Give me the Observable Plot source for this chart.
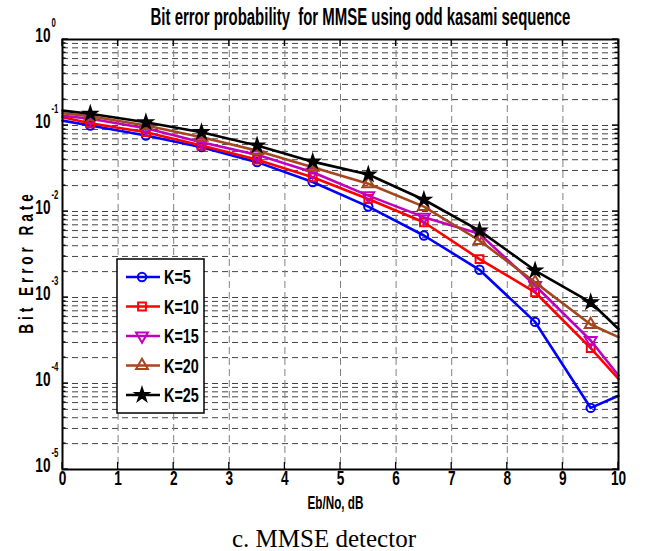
<!DOCTYPE html>
<html><head><meta charset="utf-8">
<script src="https://cdn.jsdelivr.net/npm/d3@7"></script>
<script src="https://cdn.jsdelivr.net/npm/@observablehq/plot@0.6"></script>
<style>
body{margin:0;background:#fff;}
#chart{position:relative;width:646px;height:551px;background:#fff;overflow:hidden;}
#caption{position:absolute;left:0;top:527px;width:648px;text-align:center;font-family:"Liberation Serif","Times New Roman",serif;font-size:25px;line-height:24px;color:#000;}
</style>
</head><body>
<div id="chart"></div>
<script>
// ---- data ----
const ebno = [0, 0.5, 1.5, 2.5, 3.5, 4.5, 5.5, 6.5, 7.5, 8.5, 9.5, 10];
const k5  = [0.114, 0.100, 0.0765, 0.056, 0.0375, 0.022, 0.0114, 0.00526, 0.0021, 0.00052, 0.000052, 0.000072];
const k10 = [0.125, 0.106, 0.0836, 0.0585, 0.040, 0.025, 0.014, 0.0075, 0.0028, 0.00115, 0.000258, 0.000113];
const k15 = [0.130, 0.120, 0.093, 0.064, 0.0456, 0.0286, 0.0153, 0.0086, 0.0055, 0.00138, 0.000316, 0.000124];
const k20 = [0.139, 0.128, 0.100, 0.073, 0.051, 0.0327, 0.021, 0.0114, 0.0046, 0.0015, 0.000485, 0.000346];
const k25 = [0.149, 0.137, 0.109, 0.0836, 0.0585, 0.038, 0.0269, 0.0137, 0.006, 0.00206, 0.00088, 0.00043];
const seriesNames = ["K=5", "K=10", "K=15", "K=20", "K=25"];
const seriesValues = [k5, k10, k15, k20, k25];
const seriesColors = ["#0000ff", "#ff0000", "#bf00bf", "#a5461e", "#000000"];
const xTicks = [0, 1, 2, 3, 4, 5, 6, 7, 8, 9, 10];
const yDecades = [1e-5, 1e-4, 1e-3, 1e-2, 1e-1, 1];
const yExponents = ["-5", "-4", "-3", "-2", "-1", "0"];
const titleText = "Bit error probability  for MMSE using odd kasami sequence";
const xLabelText = "Eb/No, dB";
const yLabelText = "Bit Error Rate";
const captionText = "c. MMSE detector";

// ---- symbols ----
const triDown = {draw(ctx, size) {
  const y = -Math.sqrt(size / (Math.sqrt(3) * 3));
  ctx.moveTo(0, -y * 2);
  ctx.lineTo(-Math.sqrt(3) * y, y);
  ctx.lineTo(Math.sqrt(3) * y, y);
  ctx.closePath();
}};
const seriesSymbols = ["circle", "square", triDown, "triangle", "star"];
const seriesR = [4.2, 4.4, 4.4, 4.4, 4.0];
const seriesFill = ["none", "none", "none", "none", "#000"];

const rows = [];
seriesNames.forEach((name, si) => ebno.forEach((x, i) => rows.push({x, y: seriesValues[si][i], k: name, marker: x > 0 && x < 10})));

const yMinor = [];
for (const d of yDecades.slice(0, -1)) for (let m = 2; m <= 9; m++) yMinor.push(m * d);
const yInner = yDecades.slice(1, -1);
const xInner = xTicks.slice(1, -1);

const font = "'Liberation Sans', Arial, Helvetica, sans-serif";
const marks = [
  Plot.ruleY(yMinor, {stroke: "#444", strokeDasharray: "6,4", strokeWidth: 1}),
  Plot.ruleY(yInner, {stroke: "#444", strokeDasharray: "6,4", strokeWidth: 1}),
  Plot.ruleX(xInner, {stroke: "#808080", strokeDasharray: "7,4", strokeWidth: 1})
];
seriesNames.forEach((name, si) => {
  const d = rows.filter(r => r.k === name);
  marks.push(Plot.line(d, {x: "x", y: "y", stroke: seriesColors[si], strokeWidth: 2.6}));
  marks.push(Plot.dot(d.filter(r => r.marker), {x: "x", y: "y", symbol: seriesSymbols[si], r: seriesR[si], stroke: seriesColors[si], fill: seriesFill[si], strokeWidth: 2}));
});
marks.push(
  Plot.frame({stroke: "#000", strokeWidth: 2}),
  Plot.text(xTicks, {x: d => d, frameAnchor: "bottom", dy: 15, text: d => String(d), fontSize: 21, fontWeight: "bold", lineAnchor: "middle"}),
  Plot.text(yDecades, {y: d => d, frameAnchor: "left", dx: -12, dy: 2, text: () => "10", textAnchor: "end", fontSize: 21, fontWeight: "bold", lineAnchor: "middle"}),
  Plot.text(yDecades, {y: d => d, frameAnchor: "left", dx: -11, dy: -13, text: (d, i) => yExponents[i], textAnchor: "start", fontSize: 12, fontWeight: "bold", lineAnchor: "middle"}),
  Plot.text([titleText], {frameAnchor: "top", dx: 20, dy: -15, fontSize: 23, fontWeight: "bold", lineAnchor: "middle"}),
  Plot.text([xLabelText], {frameAnchor: "bottom", dx: -5, dy: 39, fontSize: 18, fontWeight: "bold", lineAnchor: "middle"})
);

const plot = Plot.plot({
  width: 646, height: 515,
  marginLeft: 62, marginRight: 28, marginTop: 39, marginBottom: 46,
  x: {domain: [0, 10], axis: null},
  y: {type: "log", domain: [1e-5, 1], axis: null},
  style: {fontFamily: font, background: "#fff", overflow: "visible"},
  marks
});
document.getElementById("chart").appendChild(plot);

// squeeze text horizontally (the reference figure is horizontally condensed)
function squeeze(root, s) {
  root.querySelectorAll("text").forEach(t => {
    if (t.getAttribute("data-noscale")) return;
    const x = +t.getAttribute("x") || 0, y = +t.getAttribute("y") || 0;
    t.removeAttribute("x"); t.removeAttribute("y");
    const tr = t.getAttribute("transform") || "";
    t.setAttribute("transform", `${tr} translate(${x},${y}) scale(${s},1)`);
  });
}
squeeze(plot, 0.65);

const sx = plot.scale("x"), sy = plot.scale("y");
const fx = v => sx.apply ? sx.apply(v) : d3.scaleLinear(sx.domain, sx.range)(v);
const fy = v => sy.apply ? sy.apply(v) : d3.scaleLog(sy.domain, sy.range)(v);
const svg = d3.select(plot.tagName.toLowerCase() === "svg" ? plot : plot.querySelector("svg"));
const [L, R] = [fx(0), fx(10)], [B, T] = [fy(1e-5), fy(1)];

// y axis label (rotated, letter-spaced)
svg.append("text").attr("data-noscale", "1")
  .attr("transform", `translate(25,${(B + T) / 2 + 8}) rotate(-90) scale(0.65,1)`)
  .attr("text-anchor", "middle").attr("dy", "0.36em")
  .attr("font-family", font).attr("font-weight", "bold").attr("font-size", 21)
  .attr("letter-spacing", 6)
  .text(yLabelText);

// frame ticks (inward), positioned through the plot's scales
const tg = svg.append("g").attr("stroke", "#000").attr("stroke-width", 1.3);
xTicks.forEach(v => {
  tg.append("line").attr("x1", fx(v)).attr("x2", fx(v)).attr("y1", B).attr("y2", B - 7);
  tg.append("line").attr("x1", fx(v)).attr("x2", fx(v)).attr("y1", T).attr("y2", T + 7);
});
yDecades.forEach(v => {
  tg.append("line").attr("x1", L).attr("x2", L + 6).attr("y1", fy(v)).attr("y2", fy(v));
  tg.append("line").attr("x1", R).attr("x2", R - 6).attr("y1", fy(v)).attr("y2", fy(v));
});
yMinor.forEach(v => {
  tg.append("line").attr("x1", L).attr("x2", L + 3.5).attr("y1", fy(v)).attr("y2", fy(v));
  tg.append("line").attr("x1", R).attr("x2", R - 3.5).attr("y1", fy(v)).attr("y2", fy(v));
});

// legend
const lg = svg.append("g");
const lx = 117, ly = 259, lw = 87, lh = 154, step = 29.5, first = 277;
lg.append("rect").attr("x", lx).attr("y", ly).attr("width", lw).attr("height", lh)
  .attr("fill", "#fff").attr("stroke", "#000").attr("stroke-width", 1.5);
seriesNames.forEach((name, i) => {
  const cy = first + i * step;
  lg.append("line").attr("x1", 126).attr("x2", 160).attr("y1", cy).attr("y2", cy)
    .attr("stroke", seriesColors[i]).attr("stroke-width", 2.6);
  const sym = typeof seriesSymbols[i] === "string"
    ? {circle: d3.symbolCircle, square: d3.symbolSquare, triangle: d3.symbolTriangle, star: d3.symbolStar}[seriesSymbols[i]]
    : seriesSymbols[i];
  lg.append("path").attr("d", d3.symbol(sym, Math.PI * seriesR[i] * seriesR[i])())
    .attr("transform", `translate(142,${cy})`)
    .attr("fill", seriesFill[i]).attr("stroke", seriesColors[i]).attr("stroke-width", 2);
  lg.append("text").attr("data-noscale", "1")
    .attr("transform", `translate(164,${cy}) scale(0.72,1)`)
    .attr("text-anchor", "start")
    .attr("dy", "0.36em").attr("font-family", font).attr("font-weight", "bold").attr("font-size", 20)
    .text(name);
});

const cap = document.createElement("div");
cap.id = "caption";
cap.textContent = captionText;
document.getElementById("chart").appendChild(cap);
</script>
</body></html>
